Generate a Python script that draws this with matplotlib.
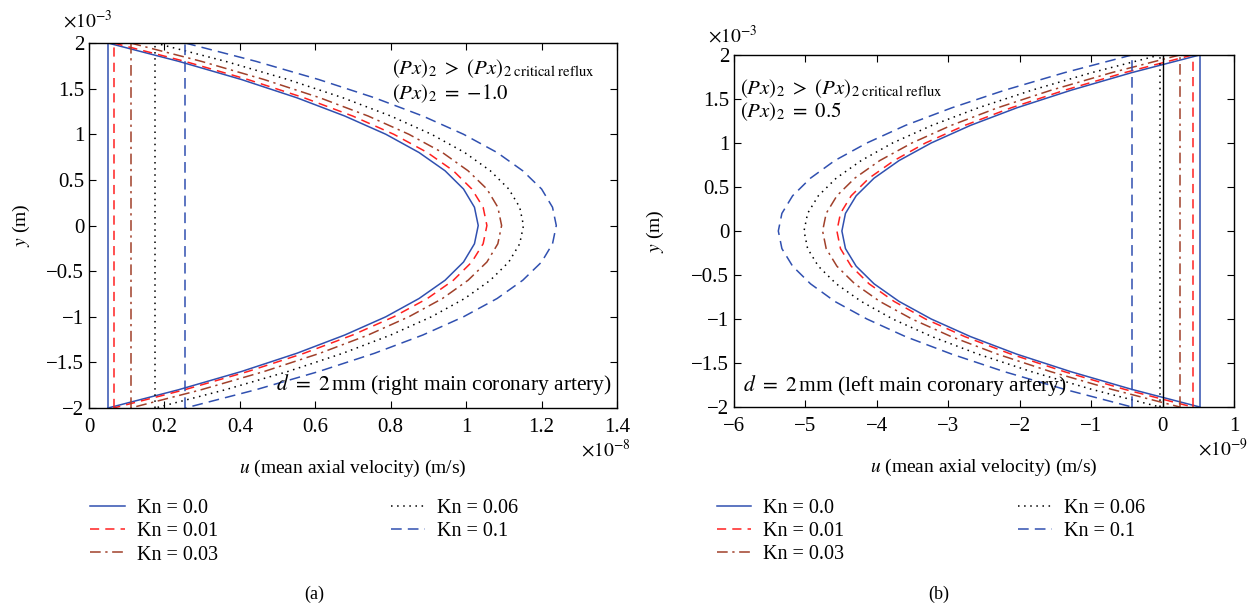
import numpy as np
import matplotlib.pyplot as plt
from matplotlib.ticker import FuncFormatter

plt.rcParams['font.family'] = 'serif'
plt.rcParams['font.serif'] = ['Liberation Serif', 'DejaVu Serif']
plt.rcParams['mathtext.fontset'] = 'stix'

# half profiles, y from 0 to 2e-3 (wall) in steps of 0.2e-3
y_half = [0.0, 0.2, 0.4, 0.6, 0.8, 1.0, 1.2, 1.4, 1.6, 1.8, 2.0]  # x 1e-3 m

kn_labels = ['Kn = 0.0', 'Kn = 0.01', 'Kn = 0.03', 'Kn = 0.06', 'Kn = 0.1']

# (a) right main coronary artery, u in 1e-8 m/s
u_a_kn0 = [1.032, 1.022, 0.993, 0.944, 0.875, 0.787, 0.678, 0.551, 0.404, 0.237, 0.050]
u_a_kn001 = [1.055, 1.045, 1.015, 0.966, 0.897, 0.808, 0.699, 0.570, 0.421, 0.253, 0.065]
u_a_kn003 = [1.094, 1.084, 1.055, 1.005, 0.937, 0.848, 0.740, 0.612, 0.464, 0.297, 0.110]
u_a_kn006 = [1.152, 1.142, 1.113, 1.064, 0.996, 0.908, 0.800, 0.673, 0.527, 0.361, 0.175]
u_a_kn01 = [1.239, 1.229, 1.200, 1.150, 1.082, 0.993, 0.885, 0.757, 0.609, 0.442, 0.255]

# (b) left main coronary artery, u in 1e-9 m/s
u_b_kn0 = [-4.49, -4.44, -4.29, -4.04, -3.69, -3.24, -2.69, -2.04, -1.28, -0.43, 0.52]
u_b_kn001 = [-4.56, -4.51, -4.36, -4.11, -3.76, -3.32, -2.77, -2.12, -1.37, -0.53, 0.42]
u_b_kn003 = [-4.76, -4.71, -4.56, -4.31, -3.96, -3.51, -2.96, -2.31, -1.56, -0.71, 0.24]
u_b_kn006 = [-5.02, -4.97, -4.82, -4.57, -4.22, -3.78, -3.23, -2.58, -1.83, -0.99, -0.04]
u_b_kn01 = [-5.38, -5.33, -5.18, -4.93, -4.59, -4.14, -3.60, -2.95, -2.21, -1.37, -0.43]

blue = '#3050b0'
styles = [
    dict(color=blue, linestyle='-'),
    dict(color='#ff2020', linestyle=(0, (6, 4))),
    dict(color='#a0402a', linestyle=(0, (7, 3, 1.5, 3))),
    dict(color='black', linestyle=(0, (1, 3))),
    dict(color=blue, linestyle=(0, (7, 4))),
]


def full_profile(u_half, scale):
    u = np.array(u_half) * scale
    y = np.array(y_half) * 1e-3
    return np.concatenate([u[::-1], u[1:]]), np.concatenate([y[::-1], -y[1:]])


def tick_fmt(scale):
    return FuncFormatter(lambda v, p: f'{v / scale:g}'.replace('-', '\u2212'))


def draw_panel(ax, profiles, scale, xexp, ypad, ytop_off):
    for prof, st, lab in zip(profiles, styles, kn_labels):
        u, y = full_profile(prof, scale)
        ax.plot(u, y, lw=1.1, label=lab, **st)
        ax.plot([u[0], u[0]], [-2e-3, 2e-3], lw=1.1, **st)
    ax.set_ylim(-2e-3, 2e-3)
    ax.set_yticks(np.arange(-2, 2.01, 0.5) * 1e-3)
    ax.tick_params(direction='in', top=True, right=True, labelsize=15, length=5)
    ax.tick_params(axis='x', pad=7)
    ax.xaxis.set_major_formatter(tick_fmt(scale))
    ax.yaxis.set_major_formatter(tick_fmt(1e-3))
    ax.set_xlabel(r'$u$ (mean axial velocity) (m/s)', fontsize=14, labelpad=15)
    ax.set_ylabel(r'$y$ (m)', fontsize=14, labelpad=ypad)
    ax.annotate(r'$\times 10^{%d}$' % xexp, xy=(1, 0), xycoords='axes fraction',
                xytext=(10, -30), textcoords='offset points', fontsize=14,
                ha='right', va='center')
    ax.annotate(r'$\times 10^{-3}$', xy=(0, 1), xycoords='axes fraction',
                xytext=(-1, ytop_off), textcoords='offset points', fontsize=14,
                ha='center', va='center')
    for s in ax.spines.values():
        s.set_linewidth(1.0)


fig = plt.figure(figsize=(12.49, 6.11), dpi=100)
ax1 = fig.add_axes([0.0713, 0.3322, 0.4227, 0.5974])
ax2 = fig.add_axes([0.5877, 0.3339, 0.4003, 0.5761])

draw_panel(ax1, [u_a_kn0, u_a_kn001, u_a_kn003, u_a_kn006, u_a_kn01], 1e-8, -8, 10, 16)
ax1.set_xlim(0, 1.4e-8)
ax1.set_xticks(np.arange(0, 1.41, 0.2) * 1e-8)

draw_panel(ax2, [u_b_kn0, u_b_kn001, u_b_kn003, u_b_kn006, u_b_kn01], 1e-9, -9, 18, 14)
ax2.axvline(0, color='black', lw=1.0)
ax2.set_xlim(-6e-9, 1e-9)
ax2.set_xticks(np.arange(-6, 1.01, 1) * 1e-9)

ax1.text(0.573, 0.93, r'$(Px)_2\ >\ (Px)_{2\ \mathrm{critical\ reflux}}$',
         transform=ax1.transAxes, fontsize=15, va='center')
ax1.text(0.573, 0.86, r'$(Px)_2\ =\ {-}1.0$', transform=ax1.transAxes, fontsize=15, va='center')
ax1.text(0.99, 0.065, r'$d\ =\ 2\,$mm (right main coronary artery)',
         transform=ax1.transAxes, fontsize=15.5, ha='right', va='center')

ax2.text(0.012, 0.905, r'$(Px)_2\ >\ (Px)_{2\ \mathrm{critical\ reflux}}$',
         transform=ax2.transAxes, fontsize=15, va='center')
ax2.text(0.012, 0.838, r'$(Px)_2\ =\ 0.5$', transform=ax2.transAxes, fontsize=15, va='center')
ax2.text(0.018, 0.062, r'$d\ =\ 2\,$mm (left main coronary artery)',
         transform=ax2.transAxes, fontsize=15.5, ha='left', va='center')

leg_kw = dict(ncol=2, frameon=False, fontsize=14.5, handlelength=1.7,
              handletextpad=0.6, labelspacing=0.2, columnspacing=8.6, loc='upper left')
ax1.legend(bbox_to_anchor=(-0.032, -0.2), **leg_kw)
ax2.legend(bbox_to_anchor=(-0.07, -0.21), **leg_kw)

fig.text(0.252, 0.02, '(a)', fontsize=13, ha='center')
fig.text(0.752, 0.02, '(b)', fontsize=13, ha='center')

fig.savefig('out.png', dpi=100)
